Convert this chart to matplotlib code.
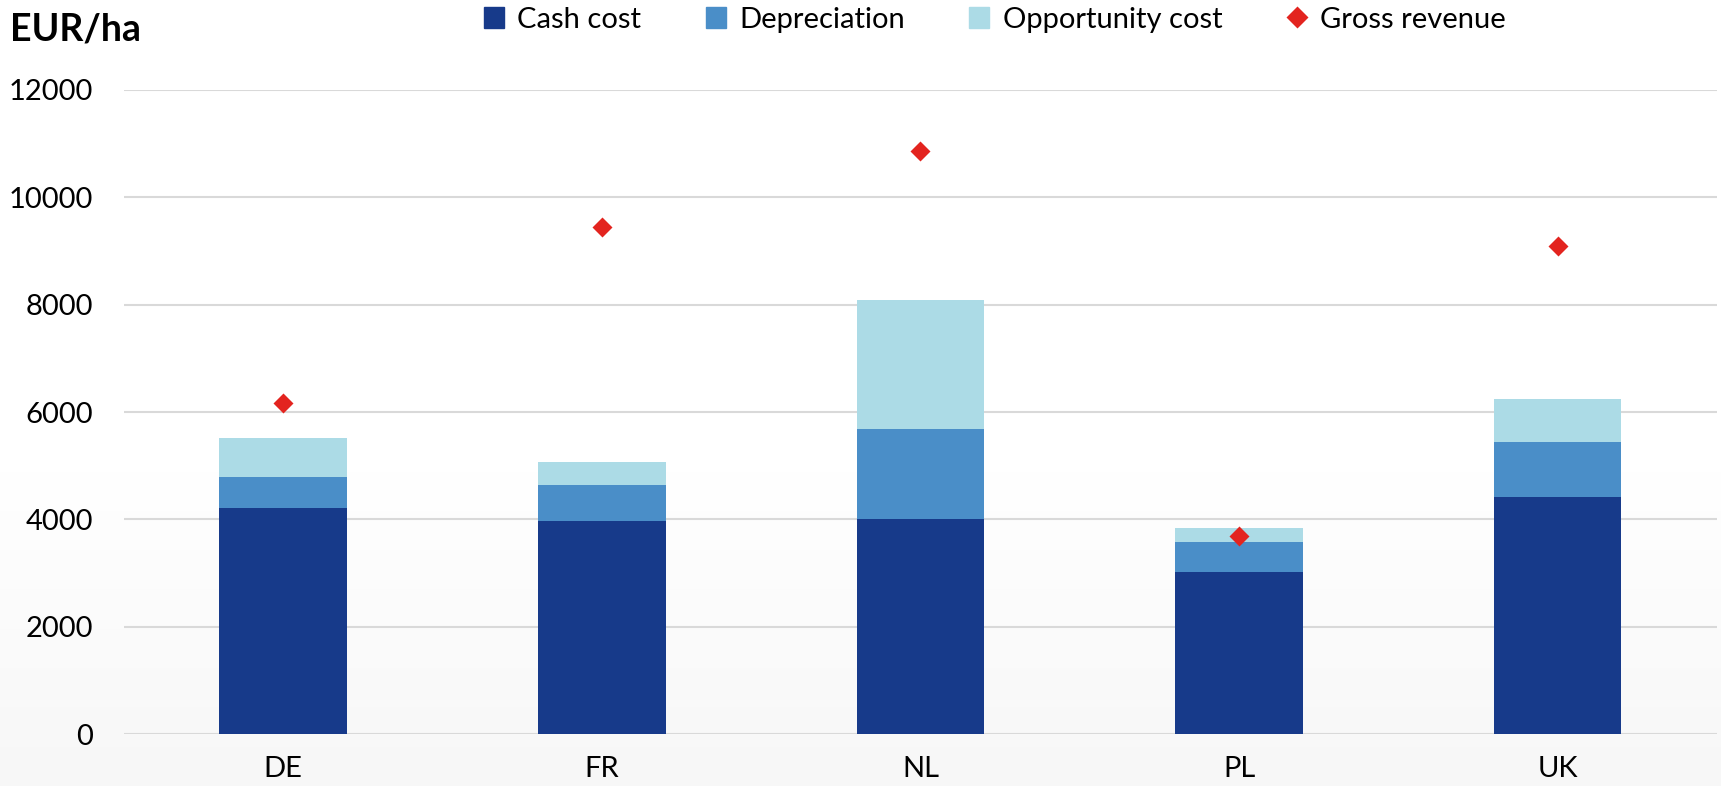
import numpy as np
import matplotlib
matplotlib.use("Agg")
import matplotlib.pyplot as plt
from matplotlib.lines import Line2D
from matplotlib.patches import Patch

plt.rcParams['font.family'] = ['Lato', 'DejaVu Sans']

# data (EUR/ha)
countries = ["DE", "FR", "NL", "PL", "UK"]
cash_cost = [4215, 3968, 4005, 3026, 4420]
depreciation = [566, 678, 1680, 555, 1018]
opportunity_cost = [735, 425, 2408, 255, 797]
gross_revenue = [6160, 9445, 10870, 3698, 9097]

col_cash = "#173a8a"
col_dep = "#4a8ec8"
col_opp = "#acdbe6"
col_rev = "#e3241f"

fig = plt.figure(figsize=(17.21, 7.86), dpi=100)

# faint grey fade toward the bottom of the picture
bg = fig.add_axes([0, 0, 1, 1], zorder=-10)
grad = np.ones((200, 1))
grad[110:, 0] = np.linspace(1.0, 0.965, 90)
bg.imshow(grad, aspect="auto", cmap="gray", vmin=0, vmax=1, extent=[0, 1, 0, 1])
bg.set_axis_off()

ax = fig.add_axes([0.072, 0.066, 0.9257, 0.8195])
ax.patch.set_alpha(0)

x = np.arange(len(countries))
w = 0.4
cash = np.array(cash_cost)
dep = np.array(depreciation)
opp = np.array(opportunity_cost)
ax.bar(x, cash, w, color=col_cash, zorder=3)
ax.bar(x, dep, w, bottom=cash, color=col_dep, zorder=3)
ax.bar(x, opp, w, bottom=cash + dep, color=col_opp, zorder=3)
ax.plot(x, gross_revenue, "D", color=col_rev, ms=10.5, mec="none", zorder=4)

ax.set_xlim(-0.5, len(countries) - 0.5)
ax.set_ylim(0, 12000)
ax.set_yticks(range(0, 12001, 2000))
ax.set_xticks(x)
ax.set_xticklabels(countries)
ax.yaxis.grid(True, color="#d9d9d9", lw=1.5, zorder=0)
ax.set_axisbelow(True)
for s in ax.spines.values():
    s.set_visible(False)
ax.tick_params(axis="both", length=0, labelsize=21)
ax.tick_params(axis="y", pad=22)
ax.tick_params(axis="x", pad=16)

fig.text(0.006, 0.963, "EUR/ha", fontsize=27, fontweight="bold", va="center", ha="left")

handles = [
    Patch(color=col_cash, label="Cash cost"),
    Patch(color=col_dep, label="Depreciation"),
    Patch(color=col_opp, label="Opportunity cost"),
    Line2D([], [], ls="none", marker="D", color=col_rev, ms=11, mec="none", label="Gross revenue"),
]
fig.legend(handles=handles, loc="center", bbox_to_anchor=(0.578, 0.975), ncol=4,
           frameon=False, fontsize=21, handlelength=0.7, handleheight=0.7,
           handletextpad=0.45, columnspacing=2.2)

fig.savefig("out.png", dpi=100)
